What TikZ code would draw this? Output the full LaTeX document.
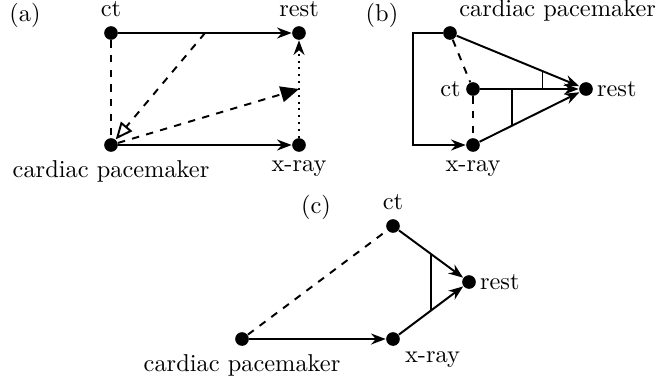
\documentclass[tikz,border=0pt]{standalone}
\usepackage{amsmath,amssymb}
\usetikzlibrary{calc,arrows.meta}

\begin{document}
\begin{tikzpicture}[x=0.41pt,y=-0.41pt,
		dot/.style={circle,fill,inner sep=0pt,minimum size=5.6pt},
		arr/.style={line width=0.8pt,-{Stealth[length=6pt,width=4.5pt]}},
		edge/.style={line width=0.8pt},
		dashline/.style={line width=0.8pt,dashed}]

		\useasboundingbox (0,0) rectangle (658,376);

		% (a)
		\node (a-tag) at (25,15) {(a)};
		\node[dot,label=above:ct] (a-ct) at (111,33) {};
		\node[dot,label=above:rest] (a-rest) at (299,33) {};
		\node[dot,label=below:cardiac pacemaker] (a-cp) at (111,145) {};
		\node[dot,label=below:x-ray] (a-xray) at (299,145) {};

		\coordinate (a-top) at ($(a-ct)!0.5!(a-rest)$);
		\coordinate (a-side) at ($(a-xray)!0.5!(a-rest)$);

		\draw [arr] (a-ct) -- (a-rest);
		\draw [arr] (a-cp) -- (a-xray);
		\draw [dashline] (a-ct) -- (a-cp);
		\draw [arr,dotted] (a-xray) -- (a-rest);
		\draw [dashline,-{Triangle[open,length=7pt,width=6pt]}] (a-top) -- (a-cp);
		\draw [dashline,-{Triangle[length=7.5pt,width=6.5pt]}] (a-cp) -- (a-side);

		% (b)
		\node (b-tag) at (382,15) {(b)};
		\node[dot,label={[anchor=base west,inner sep=0pt,xshift=1.5pt,yshift=4.5pt]north east:cardiac pacemaker}] (b-cp) at (450,33) {};
		\node[dot,label={[label distance=-1.5pt]left:ct}] (b-ct) at (473,89) {};
		\node[dot,label={[label distance=-2pt]right:rest}] (b-rest) at (586,89) {};
		\node[dot,label=below:x-ray] (b-xray) at (473,145) {};

		\coordinate (b-corner) at (413,33);
		\coordinate (b-up) at ($(b-cp)!0.68!(b-rest)$);
		\coordinate (b-down) at ($(b-xray)!0.345!(b-rest)$);

		\draw [arr] (b-cp) -- (b-rest);
		\draw [arr] (b-ct) -- (b-rest);
		\draw [arr] (b-xray) -- (b-rest);
		\draw [dashline] (b-cp) -- (b-ct);
		\draw [dashline] (b-ct) -- (b-xray);
		\draw [arr] (b-cp) -- (b-corner) |- (b-xray);
		\draw [edge] (b-up) -- (b-up |- b-ct);
		\draw [edge] (b-down) -- (b-down |- b-ct);

		% (c)
		\node (c-tag) at (316,207) {(c)};
		\node[dot,label=above:ct] (c-ct) at (393,226) {};
		\node[dot,label={[label distance=-2pt]right:rest}] (c-rest) at (469,282) {};
		\node[dot,label=below:cardiac pacemaker] (c-cp) at (242,339) {};
		\node[dot,label={[label distance=-1pt]below right:x-ray}] (c-xray) at (393,339) {};

		\draw [dashline] (c-cp) -- (c-ct);
		\draw [arr] (c-cp) -- (c-xray);
		\draw [arr] (c-ct) -- (c-rest);
		\draw [arr] (c-xray) -- (c-rest);
		\draw [edge] ($(c-ct)!0.5!(c-rest)$) -- ($(c-xray)!0.5!(c-rest)$);

	\end{tikzpicture}
\end{document}
